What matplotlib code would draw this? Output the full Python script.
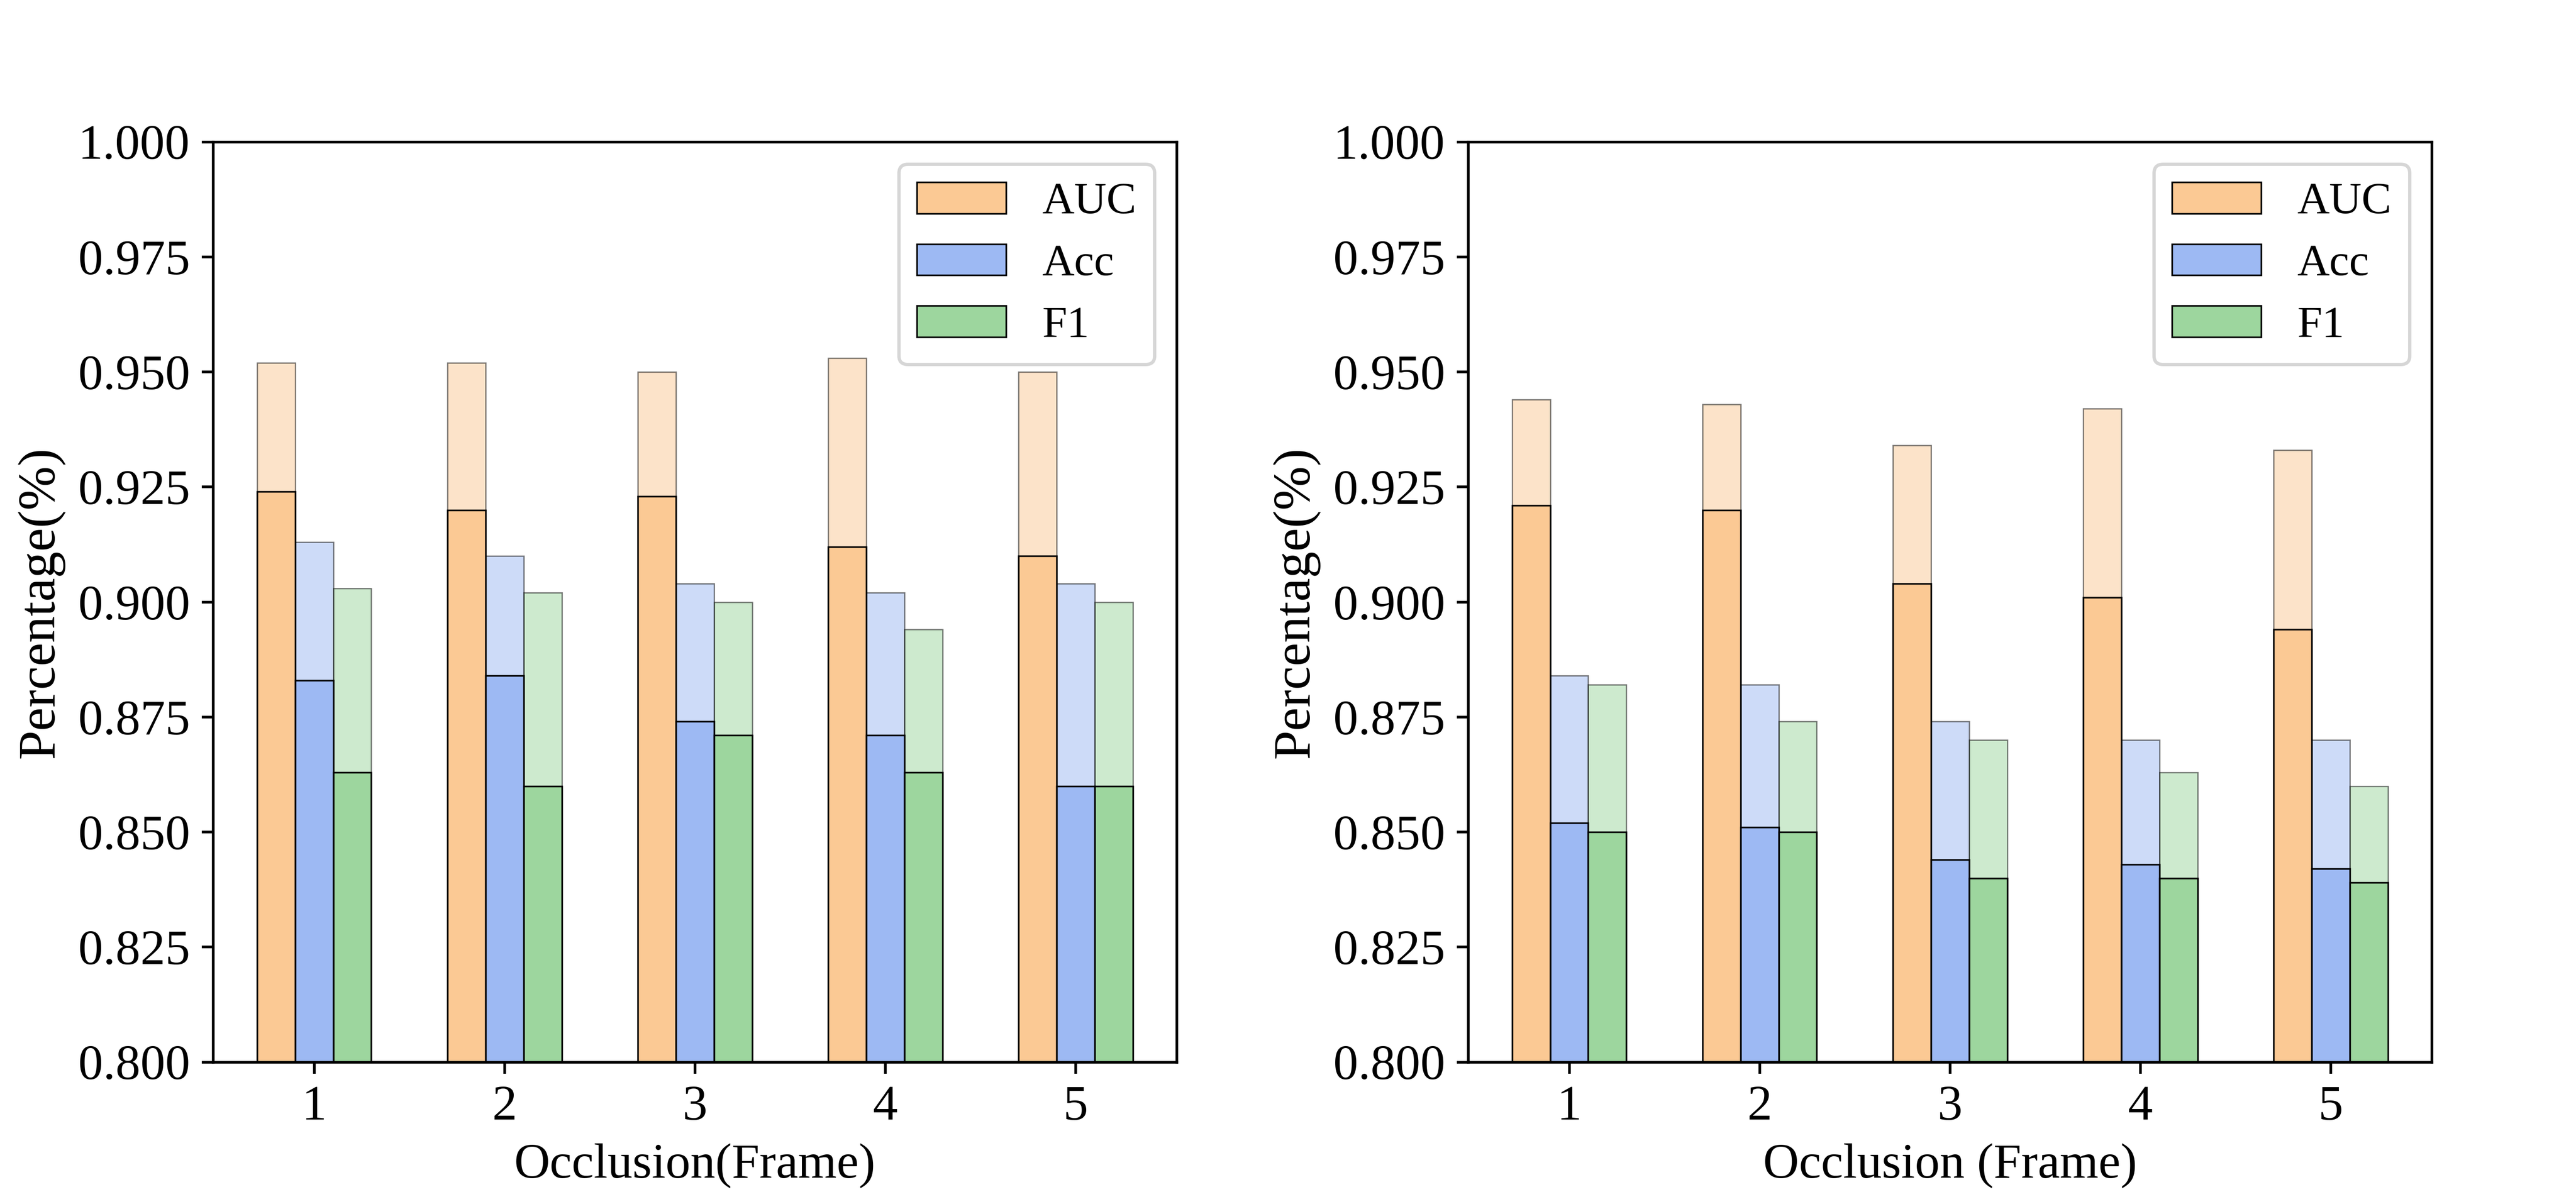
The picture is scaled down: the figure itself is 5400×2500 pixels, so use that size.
import matplotlib
matplotlib.use("Agg")
import matplotlib.pyplot as plt
import numpy as np
from matplotlib.ticker import FormatStrFormatter

plt.rcParams['font.family'] = ['Liberation Serif', 'DejaVu Serif']
plt.rcParams['font.size'] = 15

frames = ['1', '2', '3', '4', '5']
metrics = ['AUC', 'Acc', 'F1']
colors = ['#FBC994', '#9DB9F3', '#9DD69E']

# Left panel
left_auc_hi = [0.952, 0.952, 0.950, 0.953, 0.950]
left_auc_lo = [0.924, 0.920, 0.923, 0.912, 0.910]
left_acc_hi = [0.913, 0.910, 0.904, 0.902, 0.904]
left_acc_lo = [0.883, 0.884, 0.874, 0.871, 0.860]
left_f1_hi = [0.903, 0.902, 0.900, 0.894, 0.900]
left_f1_lo = [0.863, 0.860, 0.871, 0.863, 0.860]

# Right panel
right_auc_hi = [0.944, 0.943, 0.934, 0.942, 0.933]
right_auc_lo = [0.921, 0.920, 0.904, 0.901, 0.894]
right_acc_hi = [0.884, 0.882, 0.874, 0.870, 0.870]
right_acc_lo = [0.852, 0.851, 0.844, 0.843, 0.842]
right_f1_hi = [0.882, 0.874, 0.870, 0.863, 0.860]
right_f1_lo = [0.850, 0.850, 0.840, 0.840, 0.839]

left_hi = [left_auc_hi, left_acc_hi, left_f1_hi]
left_lo = [left_auc_lo, left_acc_lo, left_f1_lo]
right_hi = [right_auc_hi, right_acc_hi, right_f1_hi]
right_lo = [right_auc_lo, right_acc_lo, right_f1_lo]

fig = plt.figure(figsize=(10.8, 5), dpi=500)
ax1 = fig.add_axes([0.0828, 0.109, 0.374, 0.772])
ax2 = fig.add_axes([0.570, 0.109, 0.374, 0.772])

x = np.arange(1, len(frames) + 1)
w = 0.2
offsets = [-w, 0, w]


def draw(ax, hi, lo, xlabel):
    for k in range(3):
        ax.bar(x + offsets[k], np.array(hi[k]) - 0.8, width=w, bottom=0.8,
               color=colors[k], alpha=0.5, edgecolor='black', linewidth=0.4)
    for k in range(3):
        ax.bar(x + offsets[k], np.array(lo[k]) - 0.8, width=w, bottom=0.8,
               color=colors[k], edgecolor='black', linewidth=0.5,
               label=metrics[k])
    ax.set_ylim(0.8, 1.0)
    ax.set_yticks(np.arange(0.8, 1.0001, 0.025))
    ax.yaxis.set_major_formatter(FormatStrFormatter('%.3f'))
    ax.set_xticks(x)
    ax.set_xticklabels(frames)
    ax.tick_params(labelsize=15)
    ax.set_xlabel(xlabel, fontsize=15)
    ax.set_ylabel('Percentage(%)', fontsize=16)
    ax.legend(loc='upper right', fontsize=13.5, labelspacing=0.47)


draw(ax1, left_hi, left_lo, 'Occlusion(Frame)')
draw(ax2, right_hi, right_lo, 'Occlusion (Frame)')

fig.savefig('out.png', dpi=500)
